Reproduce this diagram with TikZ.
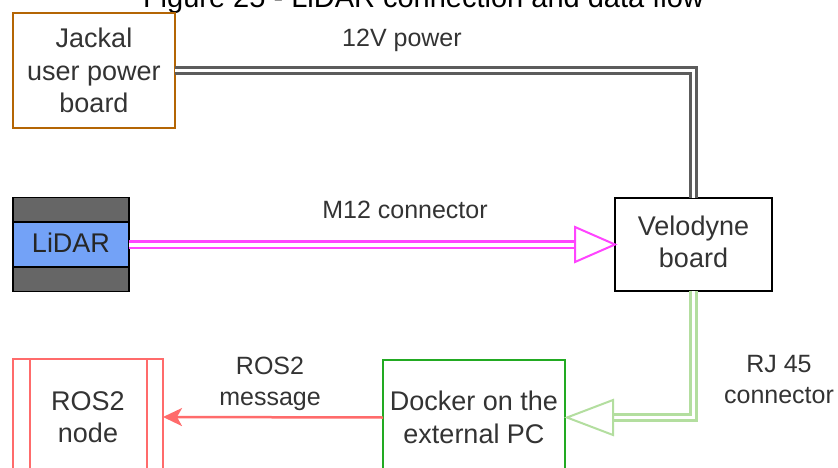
\documentclass[tikz,border=0pt]{standalone}
\usepackage{fontspec}
\setmainfont{Liberation Sans}
\usetikzlibrary{calc,arrows.meta}
\definecolor{txtgray}{HTML}{333333}
\definecolor{jackalc}{HTML}{B46504}
\definecolor{pwrgray}{HTML}{5C5C5C}
\definecolor{pinkc}{HTML}{FF44FF}
\definecolor{greenl}{HTML}{B3DE9F}
\definecolor{dockerc}{HTML}{22AA22}
\definecolor{redc}{HTML}{FF6B6B}
\definecolor{lidargray}{HTML}{666666}
\definecolor{lidarblue}{HTML}{73A2F7}
\begin{document}
\begin{tikzpicture}[x=1pt,y=-1pt,
  box/.style={draw, line width=2pt, inner sep=0pt, outer sep=0pt, align=center,
    text=txtgray, font=\fontsize{27}{32.5}\selectfont},
  lbl/.style={inner sep=0pt, outer sep=0pt, align=center, text=txtgray,
    font=\fontsize{25}{31}\selectfont},
  pwrline/.style={draw=pwrgray, line width=3pt, double=white, double distance=3pt},
  pinkline/.style={draw=pinkc, line width=2.5pt, double=white, double distance=4pt},
  greenline/.style={draw=greenl, line width=2.5pt, double=white, double distance=3.5pt},
  openhead/.style={line width=2pt, fill=white, line join=miter},
]
\path[use as bounding box] (0,0) rectangle (838,468);
\clip (0,0) rectangle (838,468);

% title
\node[anchor=base, inner sep=0pt, font=\fontsize{29}{35}\selectfont] (title) at (423.5,7.5)
  {Figure 25 - LiDAR connection and data flow};

% boxes
\node[box, draw=jackalc, minimum width=162pt, minimum height=115pt] (jackal) at (94,70.5)
  {Jackal\\user power\\board};
\node[box, draw=black, minimum width=157pt, minimum height=93pt] (velo) at (693.5,244.5)
  {Velodyne\\board\rule[-6pt]{0pt}{6pt}};
\node[draw=black, line width=1.5pt, fill=lidargray, inner sep=0pt, outer sep=0pt,
  minimum width=116pt, minimum height=94pt] (lidar) at (71,244.5) {};
\node[draw=black, line width=1.5pt, fill=lidarblue, inner sep=0pt, outer sep=0pt,
  minimum width=116pt, minimum height=45pt, text=black!85,
  font=\fontsize{27}{32.5}\selectfont] (lidarmid) at (71,244.5)
  {LiDAR\rule[-4.5pt]{0pt}{4.5pt}};
\node[box, draw=dockerc, minimum width=182pt, minimum height=115pt] (docker) at (474,417.5)
  {Docker on the\\external PC};
\node[box, draw=redc, minimum width=150pt, minimum height=116pt] (ros) at (88,417)
  {ROS2\\node};
\draw[redc, line width=2pt] ($(ros.north west)+(17,0)$) -- ($(ros.south west)+(17,0)$);
\draw[redc, line width=2pt] ($(ros.north east)+(-16,0)$) -- ($(ros.south east)+(-16,0)$);

% 12V power
\draw[pwrline] (jackal.east) -| (velo.north);
\node[lbl, anchor=base] (l12v) at (402,47) {12V power};

% M12 connector
\draw[pinkline] (lidarmid.east) -- ($(velo.west)+(-40,0)$);
\draw[openhead, draw=pinkc] ($(velo.west)+(-40,-17.5)$) -- (velo.west)
  -- ($(velo.west)+(-40,17.5)$) -- cycle;
\node[lbl, anchor=base] (lm12) at (405,218) {M12 connector};

% RJ45
\draw[greenline] (velo.south) |- ($(docker.east)+(48,0)$);
\draw[openhead, draw=greenl] ($(docker.east)+(48,-17.5)$) -- ($(docker.east)+(2,0)$)
  -- ($(docker.east)+(48,17.5)$) -- cycle;
\node[lbl] (lrj) at (779,380) {RJ 45\\connector};

% ROS2 message
\draw[redc, line width=2.5pt, -{Stealth[length=19pt,width=18pt,inset=5pt]}]
  (docker.west) -- (ros.east);
\node[lbl] (lros) at (270,383.8) {ROS2\\message};
\end{tikzpicture}
\end{document}
